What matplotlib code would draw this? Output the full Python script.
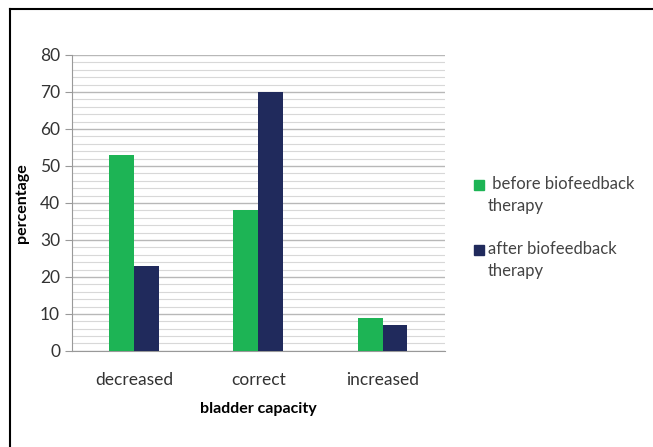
import numpy as np
import matplotlib.pyplot as plt
from matplotlib.patches import Rectangle
from matplotlib.lines import Line2D

plt.rcParams['font.family'] = ['Lato', 'DejaVu Sans']

# data
categories = ['decreased', 'correct', 'increased']
before = [53, 38, 9]
after = [23, 70, 7]
series_names = [' before biofeedback\ntherapy', 'after biofeedback\ntherapy']
green = '#1db455'
navy = '#202a5c'

W, H = 653, 447
fig = plt.figure(figsize=(W / 100, H / 100), dpi=100)
ax = fig.add_axes([0.110, 0.215, 0.571, 0.662])

x = np.arange(len(categories))
w = 0.2
ax.bar(x - w / 2, before, w, color=green, zorder=3)
ax.bar(x + w / 2, after, w, color=navy, zorder=3)

ax.set_xlim(-0.5, 2.5)
ax.set_ylim(0, 80)
ax.set_yticks(range(0, 81, 10))
ax.set_yticks(range(0, 81, 2), minor=True)
ax.grid(axis='y', which='major', color='#b8b8b8', lw=1.0, zorder=0)
ax.grid(axis='y', which='minor', color='#d8d8d8', lw=0.8, zorder=0)
ax.set_xticks(x)
ax.set_xticklabels(categories, fontsize=12.5, color='#333333')
ax.tick_params(axis='y', which='major', labelsize=12.5, labelcolor='#333333',
               color='#999999', length=5)
ax.tick_params(axis='y', which='minor', length=0)
ax.tick_params(axis='x', length=0, pad=15)
for s in ['top', 'right']:
    ax.spines[s].set_visible(False)
ax.spines['left'].set_color('#999999')
ax.spines['bottom'].set_color('#999999')

ax.set_xlabel('bladder capacity', fontsize=11.5, fontweight='bold', labelpad=10)
ax.set_ylabel('percentage', fontsize=11.5, fontweight='bold', labelpad=8)

# legend drawn by hand so the marker sits on the first text line
colors = [green, navy]
for i, (name, c) in enumerate(zip(series_names, colors)):
    yc = 185 + 65 * i
    fig.add_artist(Rectangle(((474) / W, 1 - (yc + 5) / H), 10 / W, 10 / H,
                             color=c, transform=fig.transFigure))
    fig.text(488 / W, 1 - (yc - 9) / H, name, fontsize=12, color='#444444',
             va='top', ha='left', linespacing=1.45)

# outer frame (top and left)
fig.add_artist(Line2D([10 / W, 1], [1 - 9 / H, 1 - 9 / H], color='black', lw=1.5))
fig.add_artist(Line2D([10 / W, 10 / W], [0, 1 - 9 / H], color='black', lw=1.5))

fig.savefig('out.png', dpi=100)
